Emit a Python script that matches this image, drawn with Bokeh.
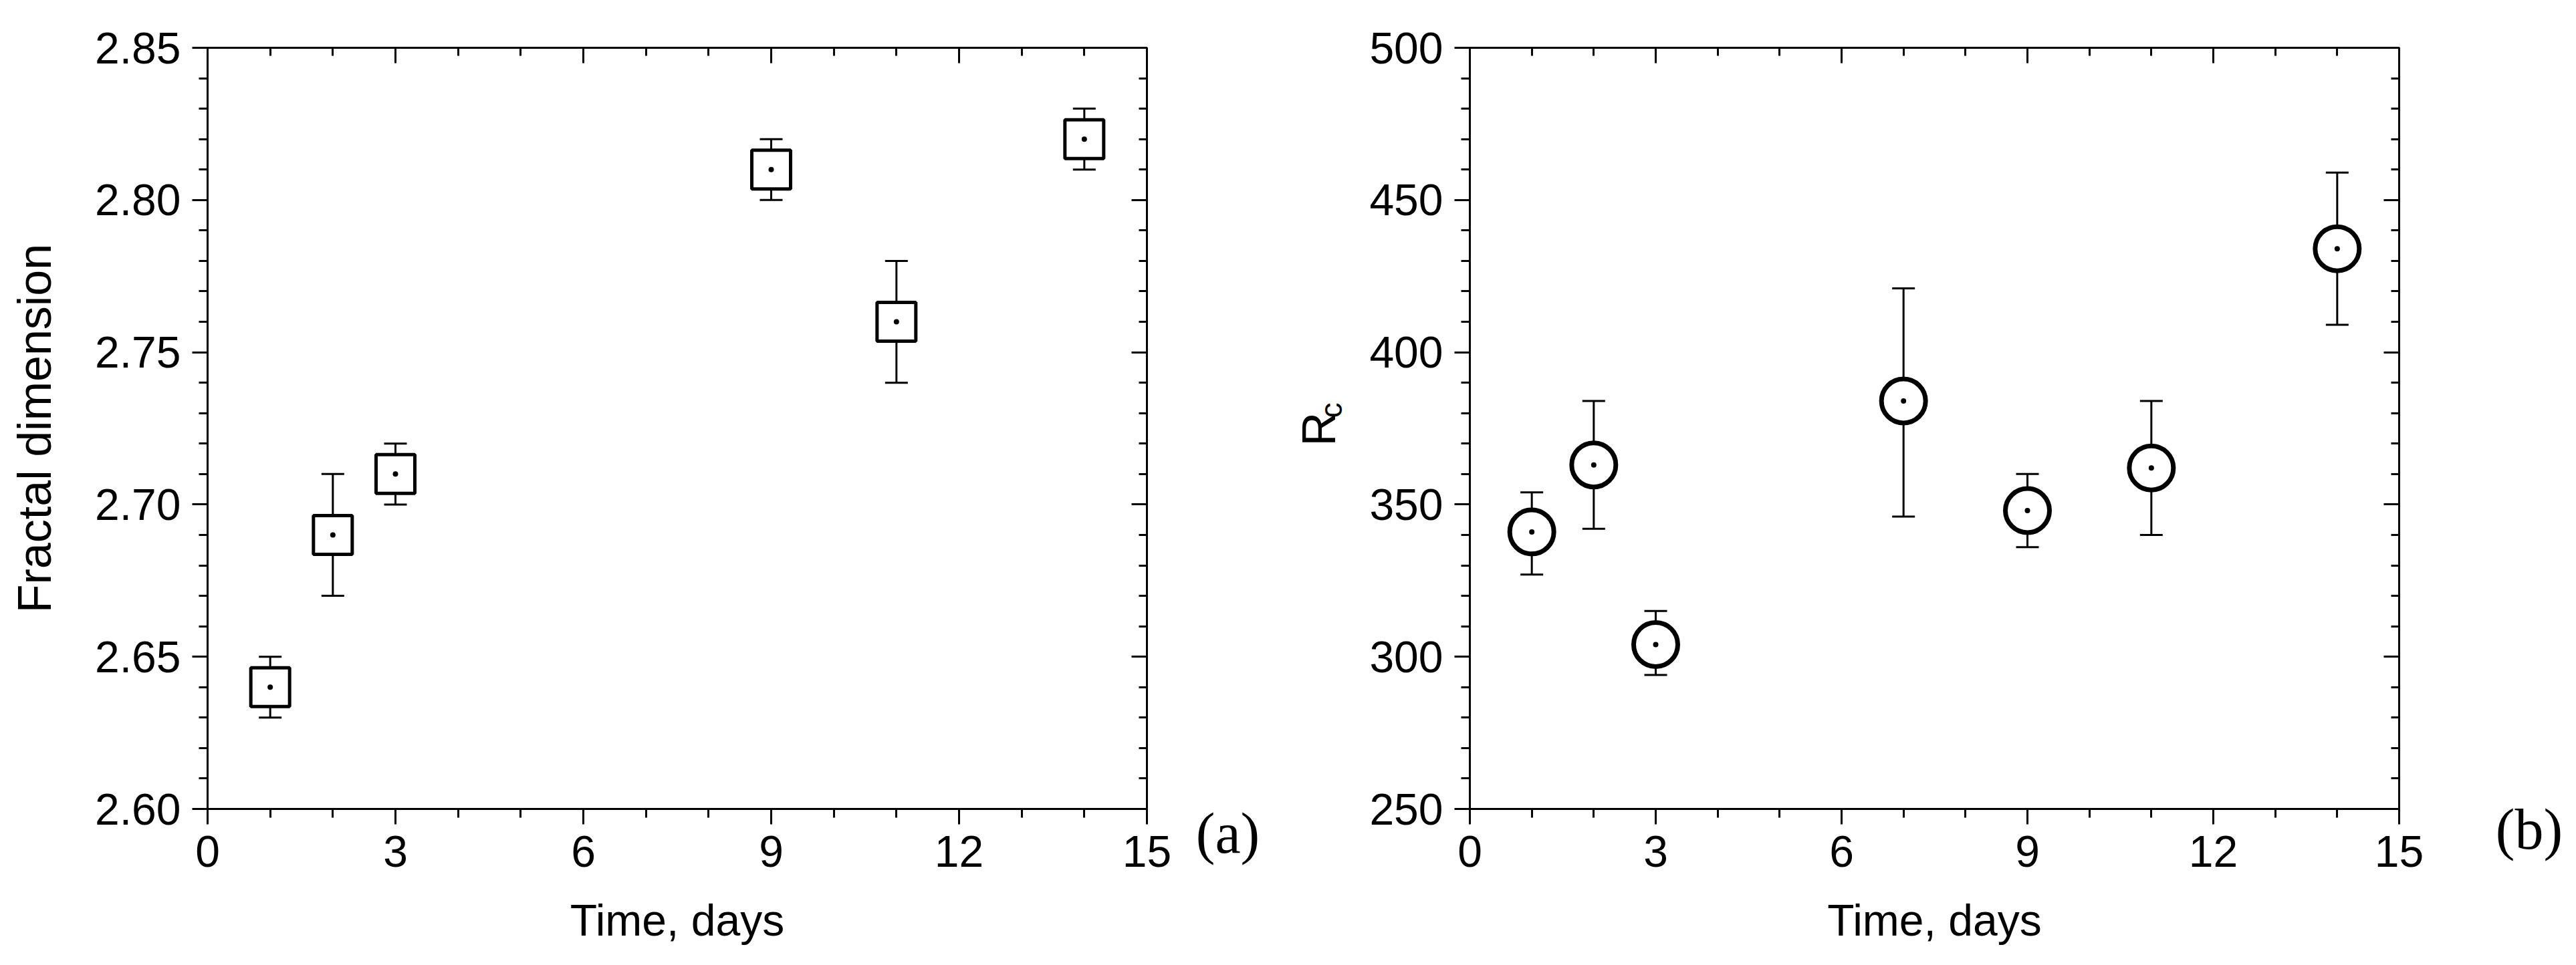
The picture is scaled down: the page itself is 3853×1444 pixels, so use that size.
from bokeh.plotting import figure
from bokeh.layouts import row
from bokeh.models import (Range1d, LinearAxis, SingleIntervalTicker, FixedTicker,
                          PrintfTickFormatter, CustomJSTickFormatter, ColumnDataSource, Spacer)
from bokeh.core.properties import value
from bokeh.embed import file_html
from bokeh.resources import INLINE
import math

# ---------------- data ----------------
days_a = [1, 2, 3, 9, 11, 14]
fractal_dim = [2.64, 2.69, 2.71, 2.81, 2.76, 2.82]
fractal_upper = [2.65, 2.71, 2.72, 2.82, 2.78, 2.83]
fractal_lower = [2.63, 2.67, 2.70, 2.80, 2.74, 2.81]

days_b = [1, 2, 3, 7, 9, 11, 14]
rc_values = [341, 363, 304, 384, 348, 362, 434]
rc_upper = [354, 384, 315, 421, 360, 384, 459]
rc_lower = [327, 342, 294, 346, 336, 340, 409]

x_label = "Time, days"
y_label_a = "Fractal dimension"
y_label_b = "R"
y_label_b_sub = "c"
panel_a = "(a)"
panel_b = "(b)"

SANS = "Liberation Sans"
SERIF = "Liberation Serif"
TICK_FS = "66px"
LABEL_FS = "70px"
PAGE_H = 1444
# frames in a row share top/bottom borders
B_TOP = 71
B_BOTTOM = 234


def style_axis(ax, outward=True, show_labels=True):
    ax.axis_line_width = 3
    ax.axis_line_color = "black"
    ax.major_tick_line_width = 3
    ax.minor_tick_line_width = 3
    ax.major_tick_line_color = "black"
    ax.minor_tick_line_color = "black"
    if outward:
        ax.major_tick_out = 23
        ax.major_tick_in = 0
        ax.minor_tick_out = 13
        ax.minor_tick_in = 0
    else:
        ax.major_tick_out = 0
        ax.major_tick_in = 23
        ax.minor_tick_out = 0
        ax.minor_tick_in = 12
    ax.major_label_text_font = SANS
    ax.major_label_text_font_size = TICK_FS
    ax.major_label_text_color = "black"
    ax.axis_label_text_font = SANS
    ax.axis_label_text_font_style = "normal"
    ax.axis_label_text_font_size = LABEL_FS
    ax.axis_label_text_color = "black"
    if not show_labels:
        ax.formatter = CustomJSTickFormatter(code="return ''")
        ax.major_label_standoff = 0


def make_panel(xs, ys, lo, hi, y_range, y_interval, y_fmt, marker, msize, mlw,
               width, b_left, b_right, ylabel, ylabel_standoff):
    p = figure(output_backend="svg", toolbar_location=None, title=None,
               width=width, height=PAGE_H,
               min_border_left=b_left, min_border_right=b_right,
               min_border_top=B_TOP, min_border_bottom=B_BOTTOM,
               x_range=Range1d(0, 15), y_range=Range1d(*y_range))
    p.xgrid.visible = False
    p.ygrid.visible = False
    p.outline_line_color = None
    p.background_fill_color = "white"
    p.border_fill_color = "white"

    p.xaxis.ticker = SingleIntervalTicker(interval=3, num_minor_ticks=3)
    p.yaxis.ticker = SingleIntervalTicker(interval=y_interval, num_minor_ticks=5)
    p.yaxis.formatter = PrintfTickFormatter(format=y_fmt)
    p.xaxis.formatter = PrintfTickFormatter(format="%d")
    for ax in p.xaxis:
        style_axis(ax)
        ax.major_label_standoff = 17
        ax.axis_label = x_label
        ax.axis_label_standoff = 40
        ax.axis_label_text_font_size = TICK_FS
    for ax in p.yaxis:
        style_axis(ax)
        ax.major_label_standoff = 17
        ax.axis_label = ylabel
        ax.axis_label_standoff = ylabel_standoff

    top = LinearAxis(ticker=SingleIntervalTicker(interval=3, num_minor_ticks=3))
    style_axis(top, outward=False, show_labels=False)
    p.add_layout(top, "above")
    right = LinearAxis(ticker=SingleIntervalTicker(interval=y_interval, num_minor_ticks=5))
    style_axis(right, outward=False, show_labels=False)
    p.add_layout(right, "right")

    src = ColumnDataSource(dict(x=xs, y=ys, lo=lo, hi=hi))
    p.segment(x0="x", y0="lo", x1="x", y1="hi", source=src, line_width=3, line_color="black")
    p.scatter(x="x", y="hi", source=src, marker="dash", size=34, line_width=3, line_color="black")
    p.scatter(x="x", y="lo", source=src, marker="dash", size=34, line_width=3, line_color="black")
    p.scatter(x="x", y="y", source=src, marker=marker, size=msize, line_width=mlw,
              line_color="black", fill_color="white")
    p.scatter(x="x", y="y", source=src, marker="circle", size=8, line_color=None,
              fill_color="black")
    return p


def text_strip(x0, width):
    """Blank strip; its frame is aligned with the panels' frames, data = page pixels."""
    s = figure(output_backend="svg", toolbar_location=None, title=None,
               width=width, height=PAGE_H,
               x_range=Range1d(x0, x0 + width),
               y_range=Range1d(PAGE_H - (PAGE_H - B_BOTTOM), PAGE_H - B_TOP),
               min_border_left=0, min_border_right=0,
               min_border_top=B_TOP, min_border_bottom=B_BOTTOM,
               x_axis_type=None, y_axis_type=None)
    s.grid.visible = False
    s.outline_line_color = None
    s.background_fill_color = "white"
    s.border_fill_color = "white"
    return s


def panel_tag(s, txt, standoff):
    """Panel tag drawn as the (tick-less) bottom axis label of a strip."""
    ax = LinearAxis(ticker=FixedTicker(ticks=[]), axis_label=txt)
    ax.axis_line_color = None
    ax.major_tick_line_color = None
    ax.minor_tick_line_color = None
    ax.major_tick_out = 0
    ax.minor_tick_out = 0
    ax.major_label_standoff = 0
    ax.axis_label_standoff = standoff
    ax.axis_label_text_font = SERIF
    ax.axis_label_text_font_style = "normal"
    ax.axis_label_text_font_size = "86px"
    ax.axis_label_text_color = "black"
    s.add_layout(ax, "below")


def put_text(s, x, y_top, txt, font, size, angle=0.0):
    s.text(x=[x], y=[PAGE_H - y_top], text=[txt], text_font=value(font),
           text_font_size=value(size), text_color="black", text_align="left",
           text_baseline="alphabetic", angle=angle)


# left panel: page x 0 .. 1760 (frame 310 .. 1715)
p1 = make_panel(days_a, fractal_dim, fractal_lower, fractal_upper, (2.60, 2.85), 0.05, "%.2f",
                "square", 58, 5, width=1760, b_left=310, b_right=45,
                ylabel=y_label_a, ylabel_standoff=48)

# "(a)" strip: page x 1760 .. 1912 (label centred at 1836)
sa = text_strip(1760, 152)
panel_tag(sa, panel_a, -12)

# "R_c" strip: page x 1912 .. 2040
sr = text_strip(1912, 128)
put_text(sr, 1972, 667, y_label_b, SANS, "70px", angle=math.pi / 2)
put_text(sr, 1990, 625, y_label_b_sub, SANS, "46px", angle=math.pi / 2)

# right panel: page x 2040 .. 3628 (frame 2198 .. 3588)
p2 = make_panel(days_b, rc_values, rc_lower, rc_upper, (250, 500), 50, "%d",
                "circle", 66, 7, width=1588, b_left=158, b_right=40,
                ylabel=None, ylabel_standoff=0)

gap = Spacer(width=84, height=PAGE_H)

# "(b)" strip: page x 3712 .. 3853 (label centred at 3782)
sb = text_strip(3712, 141)
panel_tag(sb, panel_b, -18)

layout = row(p1, sa, sr, p2, gap, sb, spacing=0)
open("out.html", "w").write(file_html(layout, INLINE))
